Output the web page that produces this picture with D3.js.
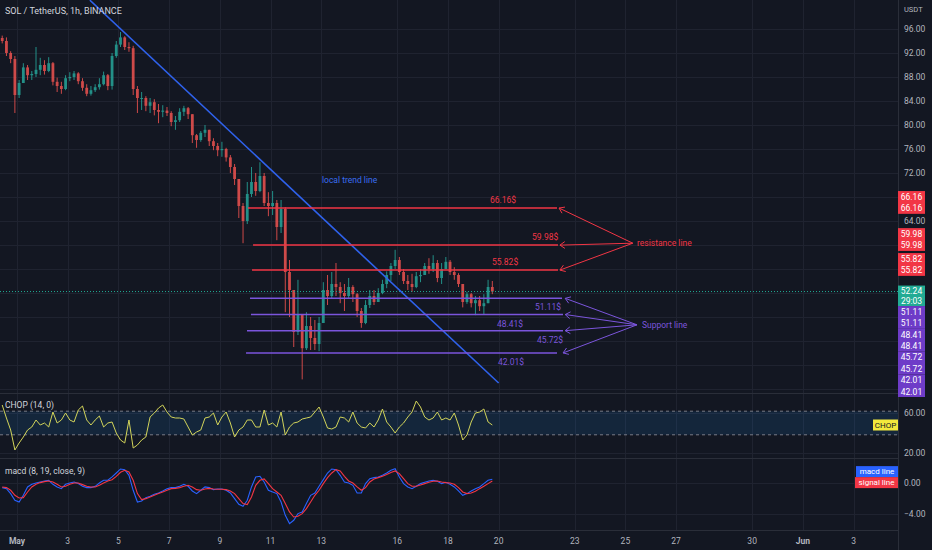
<!DOCTYPE html>
<html>
<head>
<meta charset="utf-8">
<title>SOL / TetherUS, 1h</title>
<script src="https://cdn.jsdelivr.net/npm/d3@7"></script>
<style>
  html, body { margin: 0; padding: 0; background: #131722; overflow: hidden; }
  svg { display: block; font-family: Roboto, "Open Sans", sans-serif; }
</style>
</head>
<body>
<script>
//price bars, 4h each, first bar starts 2022-04-30 08:00 UTC
var barStart = Date.UTC(2022, 3, 30, 8);
var barHours = 4;
var firstOpen = 94.5;
var closes = [94.0,92.0,91.0,85.0,87.0,89.6,88.3,88.5,89.2,90.0,
    89.0,90.3,87.2,86.5,86.0,87.8,88.0,88.6,87.3,86.2,
    85.2,85.8,86.3,86.8,88.3,86.5,91.5,93.4,94.6,93.0,
    92.8,86.0,84.5,84.5,83.2,83.8,82.5,82.2,82.4,82.0,
    80.5,80.8,82.2,82.8,81.8,78.3,77.5,78.7,79.2,77.3,
    76.5,75.8,76.0,74.6,73.0,71.0,66.5,64.0,68.5,70.5,
    69.0,71.5,67.0,66.5,67.0,63.0,66.0,55.5,52.5,45.5,
    48.5,42.8,46.5,44.5,43.5,47.0,52.5,51.5,53.5,53.0,
    52.0,51.5,53.0,51.8,49.0,47.0,50.0,51.5,50.5,52.0,
    53.5,55.0,56.5,57.5,55.5,54.0,53.5,53.0,54.8,55.0,
    56.5,56.0,57.0,54.5,56.0,57.2,55.5,55.0,53.5,50.5,
    51.8,50.3,50.8,49.8,50.3,53.0,52.24];
var highs = [94.9,94.6,92.3,91.5,87.5,90.3,90.0,89.0,93.0,91.2,
    90.8,91.3,90.5,87.9,87.2,88.3,88.8,89.0,88.8,87.8,
    86.8,86.5,86.8,87.8,88.9,88.5,92.0,94.0,95.5,94.8,
    93.8,93.2,86.5,85.5,84.8,84.5,84.3,83.5,83.3,83.0,
    82.3,81.5,82.8,83.2,83.0,81.8,78.5,79.0,80.0,79.2,
    77.8,77.0,77.2,76.2,75.0,73.5,71.0,67.0,70.5,73.0,
    72.0,73.8,72.0,68.8,69.0,67.5,67.5,66.3,57.5,52.5,
    54.2,48.5,48.8,48.0,47.5,48.0,53.8,55.0,55.5,57.0,
    53.8,53.5,54.5,53.3,52.0,49.5,50.8,52.5,52.5,52.8,
    54.2,55.6,57.0,59.2,58.0,56.0,55.0,55.2,55.5,56.0,
    57.0,57.8,58.3,57.5,57.0,58.0,57.5,56.3,55.3,53.5,
    52.2,52.0,51.5,51.5,51.8,54.2,54.0];
var lows = [93.6,91.5,90.3,82.0,84.5,87.0,87.5,87.5,88.0,88.3,
    88.4,88.8,86.6,85.5,85.2,85.8,87.3,87.5,86.8,85.7,
    84.8,84.9,85.5,85.9,86.6,85.8,85.9,91.2,93.0,92.5,
    92.2,85.0,82.0,82.5,82.3,82.0,81.6,80.3,81.3,81.5,
    79.8,79.2,80.5,81.5,81.0,77.0,76.2,77.2,78.0,76.5,
    75.8,74.8,74.7,73.9,72.0,70.0,64.5,60.3,63.5,68.0,
    68.2,68.8,66.5,64.8,65.0,60.8,62.0,48.8,48.0,43.0,
    45.0,37.6,42.5,42.5,42.5,42.3,47.0,50.0,51.0,51.5,
    50.3,49.0,51.0,50.5,48.0,46.2,46.8,49.5,50.0,50.5,
    51.8,52.8,54.0,56.0,55.0,53.5,52.5,52.2,52.8,53.8,
    55.0,55.2,55.5,53.8,53.5,56.0,55.0,54.2,53.0,49.6,
    50.2,49.6,48.3,49.0,48.4,50.3,51.8];

//CHOP (14, 0) per bar
var chop = [68,55,43,23,30,36,43,46,53,48,
    50,46,61,50,53,60,53,51,63,67,
    53,48,53,57,46,50,51,40,33,30,
    53,25,28,33,36,56,60,65,68,61,
    56,55,55,54,46,38,41,43,55,56,
    60,48,56,61,50,36,43,46,53,53,
    46,46,63,48,50,46,61,38,46,50,
    51,54,55,56,61,66,56,45,44,46,
    56,55,51,61,50,46,45,50,46,53,
    64,51,46,40,46,50,56,61,72,66,
    56,53,55,61,53,55,53,60,48,33,
    38,51,60,61,64,51,48];
var chopBand = [61.8, 38.2];

//macd (8, 19, close, 9) per bar
var macdLine = [-0.56,-0.69,-1.33,-2.19,-2.41,-1.55,-0.47,-0.13,0.04,0.17,
    0.30,0.39,-0.13,-0.47,-0.69,-0.13,0.04,0.17,-0.04,-0.39,
    -0.56,-0.56,-0.39,0.04,0.39,0.39,0.82,1.33,1.85,1.76,
    1.03,-0.90,-2.41,-2.28,-1.85,-1.68,-1.42,-1.25,-0.99,-0.69,
    -0.56,-0.56,-0.39,-0.13,-0.39,-0.99,-1.33,-0.90,-0.47,-0.56,
    -0.82,-0.73,-0.73,-0.90,-1.25,-1.98,-2.71,-2.97,-2.19,-0.47,
    0.82,0.90,0.17,-0.90,-1.12,-1.33,-2.41,-4.13,-5.20,-4.77,
    -3.91,-3.70,-2.62,-1.55,-1.25,-0.39,0.47,1.33,1.85,1.76,
    1.03,0.17,0.04,-0.26,-1.25,-1.25,-0.04,0.60,0.73,0.82,
    1.03,1.33,1.68,1.89,0.82,-0.04,-0.47,-0.69,-0.39,-0.04,
    0.13,0.30,0.39,0.26,-0.04,0.13,-0.13,-0.47,-0.99,-1.55,
    -1.33,-0.99,-0.69,-0.47,-0.04,0.39,0.52];
var signalLine = [-0.47,-0.56,-0.90,-1.55,-1.89,-1.85,-1.12,-0.47,-0.13,0.09,
    0.22,0.30,0.17,-0.13,-0.47,-0.39,-0.13,0.04,0.04,-0.17,
    -0.39,-0.47,-0.47,-0.26,0.04,0.30,0.47,0.90,1.42,1.68,
    1.46,0.39,-1.33,-2.11,-1.98,-1.76,-1.55,-1.33,-1.12,-0.90,
    -0.69,-0.65,-0.56,-0.39,-0.26,-0.47,-0.82,-0.90,-0.73,-0.65,
    -0.73,-0.77,-0.77,-0.82,-0.99,-1.33,-1.98,-2.62,-2.75,-1.76,
    -0.26,0.39,0.56,-0.04,-0.69,-1.12,-1.55,-2.62,-3.70,-4.35,
    -4.26,-3.91,-3.27,-2.41,-1.55,-0.90,-0.04,0.73,1.33,1.76,
    1.59,0.90,0.30,0.04,-0.47,-0.90,-0.56,0.17,0.56,0.73,
    0.90,1.12,1.38,1.59,1.25,0.60,-0.04,-0.39,-0.39,-0.22,
    -0.04,0.13,0.26,0.30,0.17,0.09,0.04,-0.13,-0.56,-1.12,
    -1.33,-1.25,-1.03,-0.69,-0.39,-0.04,0.30];

//last price and bar countdown
var lastPrice = 52.24;
var countdown = "29:03";

//drawn levels
var resistance = [66.16, 59.98, 55.82];
var resStart = ["2022-05-10T02:40Z", "2022-05-10T07:30Z", "2022-05-10T06:30Z"];
var resEnd = ["2022-05-22T07:15Z", "2022-05-22T08:10Z", "2022-05-22T08:10Z"];
var resLabelAt = ["2022-05-19T15:50Z", "2022-05-21T07:40Z", "2022-05-19T17:45Z"];
var resTip = ["2022-05-22T09:10Z", "2022-05-22T10:00Z", "2022-05-22T10:00Z"];
var resNote = {text: "resistance line", t: "2022-05-25T11:00Z", p: 59.85, from: "2022-05-25T07:00Z", fromP: 60.3};

var support = [51.11, 48.41, 45.72, 42.01];
var supStart = ["2022-05-10T04:35Z", "2022-05-10T05:30Z", "2022-05-10T01:45Z", "2022-05-10T00:50Z"];
var supEnd = ["2022-05-22T12:00Z", "2022-05-22T12:55Z", "2022-05-22T12:55Z", "2022-05-22T07:15Z"];
var supLabelAt = ["2022-05-21T10:25Z", "2022-05-19T22:25Z", "2022-05-21T12:20Z", "2022-05-19T23:20Z"];
var supTip = ["2022-05-22T15:00Z", "2022-05-22T15:00Z", "2022-05-22T15:00Z", "2022-05-22T13:00Z"];
var supNote = {text: "Support line", t: "2022-05-25T15:40Z", p: 46.15, from: "2022-05-25T11:00Z", fromP: 46.7};

var trendLine = [{t: "2022-05-03T21:00Z", p: 100.8}, {t: "2022-05-20T00:00Z", p: 37.0}];
var trendNote = {text: "local trend line", t: "2022-05-13T00:45Z", p: 70.3};

//axis ticks
var priceTicks = d3.range(36, 97, 4);
var chopTicks = [60, 20];
var macdTicks = [0, -4];
var dayTicks = ["2022-05-01","2022-05-03","2022-05-05","2022-05-07","2022-05-09","2022-05-11",
    "2022-05-13","2022-05-16","2022-05-18","2022-05-20","2022-05-23","2022-05-25",
    "2022-05-27","2022-05-30","2022-06-01","2022-06-03"];
var dayLabels = ["May","3","5","7","9","11","13","16","18","20","23","25","27","30","Jun","3"];

(function(){

    var width = 932,
        height = 550,
        plotRight = 898;

    //pane top / bottom
    var mainPane = [0, 393],
        chopPane = [393, 458],
        macdPane = [458, 530];

    var bg = "#131722", gridCol = "#1f2330", textCol = "#b2b5be",
        up = "#26a69a", down = "#ef5350",
        red = "#f23645", purple = "#7b55dc", blue = "#2f62ec";

    var svg = d3.select("body")
        .append("svg")
        .attr("width", width)
        .attr("height", height);

    svg.append("rect").attr("width", width).attr("height", height).attr("fill", bg);

    //scales
    var x = d3.scaleUtc()
        .domain([new Date(Date.UTC(2022, 4, 1)), new Date(Date.UTC(2022, 5, 4))])
        .range([17, 17 + 34 * 25.35]);
    var y = d3.scaleLinear().domain([96, 64]).range([29, 221]);
    var yChop = d3.scaleLinear().domain([60, 20]).range([413, 453]);
    var yMacd = d3.scaleLinear().domain([0, -4]).range([483.3, 514.3]);

    var hour = 3600e3;
    var fmt = d3.format(".2f");

    var bars = closes.map(function(c, i){
        return {
            t: new Date(barStart + (i * barHours + barHours / 2) * hour),
            o: i ? closes[i - 1] : firstOpen,
            h: highs[i], l: lows[i], c: c
        };
    });

    //clip paths for each pane
    var defs = svg.append("defs");
    [["clipMain", mainPane], ["clipChop", chopPane], ["clipMacd", macdPane], ["clipAxis", [0, 397]]].forEach(function(c){
        defs.append("clipPath").attr("id", c[0])
            .append("rect")
            .attr("x", c[0] == "clipAxis" ? plotRight : 0)
            .attr("y", c[1][0])
            .attr("width", c[0] == "clipAxis" ? width - plotRight : plotRight)
            .attr("height", c[1][1] - c[1][0]);
    });

    //grid
    var grid = svg.append("g").attr("stroke", gridCol).attr("stroke-width", 1);
    dayTicks.forEach(function(d){
        var px = Math.round(x(new Date(d + "T00:00Z"))) + 0.5;
        grid.append("line").attr("x1", px).attr("x2", px).attr("y1", 0).attr("y2", macdPane[1]);
    });
    priceTicks.forEach(function(p){
        var py = Math.round(y(p)) + 0.5;
        if (py < mainPane[1]) grid.append("line").attr("x1", 0).attr("x2", plotRight).attr("y1", py).attr("y2", py);
    });
    chopTicks.forEach(function(v){
        var py = Math.round(yChop(v)) + 0.5;
        grid.append("line").attr("x1", 0).attr("x2", plotRight).attr("y1", py).attr("y2", py);
    });
    macdTicks.forEach(function(v){
        var py = Math.round(yMacd(v)) + 0.5;
        grid.append("line").attr("x1", 0).attr("x2", plotRight).attr("y1", py).attr("y2", py);
    });

    //pane separators
    var sep = svg.append("g").attr("stroke", "#2a2e39").attr("stroke-width", 1);
    [chopPane[0], macdPane[0], macdPane[1]].forEach(function(py){
        sep.append("line").attr("x1", 0).attr("x2", width).attr("y1", py + 0.5).attr("y2", py + 0.5);
    });

    //candles
    var main = svg.append("g").attr("clip-path", "url(#clipMain)");
    var candle = main.selectAll(".candle")
        .data(bars)
        .enter()
        .append("g")
        .attr("class", "candle")
        .attr("fill", function(d){ return d.c >= d.o ? up : down; })
        .attr("stroke", function(d){ return d.c >= d.o ? up : down; })
        .attr("opacity", 0.85);
    candle.append("line")
        .attr("x1", function(d){ return x(d.t); })
        .attr("x2", function(d){ return x(d.t); })
        .attr("y1", function(d){ return y(Math.max(d.h, d.o, d.c)); })
        .attr("y2", function(d){ return y(Math.min(d.l, d.o, d.c)); })
        .attr("stroke-width", 1);
    candle.append("rect")
        .attr("stroke", "none")
        .attr("x", function(d){ return x(d.t) - 1.4; })
        .attr("width", 2.8)
        .attr("y", function(d){ return y(Math.max(d.o, d.c)); })
        .attr("height", function(d){ return Math.max(1, Math.abs(y(d.o) - y(d.c))); });

    //last price dotted line
    main.append("line")
        .attr("x1", 0).attr("x2", plotRight)
        .attr("y1", y(lastPrice)).attr("y2", y(lastPrice))
        .attr("stroke", "#22ab94").attr("stroke-width", 1)
        .attr("stroke-dasharray", "1,2");

    //trend line
    main.append("line")
        .attr("x1", x(new Date(trendLine[0].t))).attr("y1", y(trendLine[0].p))
        .attr("x2", x(new Date(trendLine[1].t))).attr("y2", y(trendLine[1].p))
        .attr("stroke", blue).attr("stroke-width", 1.6);
    main.append("text")
        .attr("x", x(new Date(trendNote.t))).attr("y", y(trendNote.p))
        .attr("fill", "#3a6df0").attr("font-size", 8.5)
        .text(trendNote.text);

    //horizontal levels with price text
    function drawLevels(levels, starts, ends, labelAt, color, above){
        levels.forEach(function(p, i){
            main.append("line")
                .attr("x1", x(new Date(starts[i]))).attr("x2", x(new Date(ends[i])))
                .attr("y1", y(p)).attr("y2", y(p))
                .attr("stroke", color).attr("stroke-width", 1.5);
            main.append("text")
                .attr("x", x(new Date(labelAt[i])))
                .attr("y", y(p) + (above ? -8 : 9))
                .attr("dy", "0.35em")
                .attr("fill", color).attr("font-size", 8.5)
                .text(fmt(p) + "$");
        });
    }
    drawLevels(resistance, resStart, resEnd, resLabelAt, red, true);
    drawLevels(support, supStart, supEnd, supLabelAt, purple, false);

    //arrows from the note to each level
    function drawArrows(levels, tips, note, color){
        var fx = x(new Date(note.from)), fy = y(note.fromP);
        levels.forEach(function(p, i){
            var tx = x(new Date(tips[i])), ty = y(p);
            var a = Math.atan2(fy - ty, fx - tx), len = 6;
            main.append("line")
                .attr("x1", fx).attr("y1", fy).attr("x2", tx).attr("y2", ty)
                .attr("stroke", color).attr("stroke-width", 1);
            main.append("path")
                .attr("d", "M" + (tx + len * Math.cos(a - 0.6)) + "," + (ty + len * Math.sin(a - 0.6)) +
                    "L" + tx + "," + ty +
                    "L" + (tx + len * Math.cos(a + 0.6)) + "," + (ty + len * Math.sin(a + 0.6)))
                .attr("fill", "none").attr("stroke", color).attr("stroke-width", 1);
        });
        main.append("text")
            .attr("x", x(new Date(note.t))).attr("y", y(note.p))
            .attr("fill", color).attr("font-size", 8.5)
            .text(note.text);
    }
    drawArrows(resistance, resTip, resNote, red);
    drawArrows(support, supTip, supNote, purple);

    //title
    svg.append("text")
        .attr("x", 5).attr("y", 14)
        .attr("fill", "#d1d4dc").attr("font-size", 9)
        .text("SOL / TetherUS, 1h, BINANCE");

    //CHOP pane
    var chopG = svg.append("g").attr("clip-path", "url(#clipChop)");
    chopG.append("rect")
        .attr("x", 0).attr("width", plotRight)
        .attr("y", yChop(chopBand[0]))
        .attr("height", yChop(chopBand[1]) - yChop(chopBand[0]))
        .attr("fill", "rgba(33,150,243,0.12)");
    chopBand.forEach(function(v){
        chopG.append("line")
            .attr("x1", 0).attr("x2", plotRight)
            .attr("y1", yChop(v)).attr("y2", yChop(v))
            .attr("stroke", "#787b86").attr("stroke-width", 1)
            .attr("stroke-dasharray", "3,3");
    });
    chopG.append("path")
        .datum(chop)
        .attr("fill", "none").attr("stroke", "#d2d45a").attr("stroke-width", 1)
        .attr("d", d3.line()
            .x(function(d, i){ return x(bars[i].t); })
            .y(function(d){ return yChop(d); }));
    chopG.append("text")
        .attr("x", 5).attr("y", 405).attr("dy", "0.35em")
        .attr("fill", "#d1d4dc").attr("font-size", 8.5)
        .text("CHOP (14, 0)");

    //MACD pane
    var macdG = svg.append("g").attr("clip-path", "url(#clipMacd)");
    [[macdLine, "#2962ff"], [signalLine, "#f23645"]].forEach(function(s){
        macdG.append("path")
            .datum(s[0])
            .attr("fill", "none").attr("stroke", s[1]).attr("stroke-width", 1.1)
            .attr("d", d3.line()
                .x(function(d, i){ return x(bars[i].t); })
                .y(function(d){ return yMacd(d); }));
    });
    macdG.append("text")
        .attr("x", 5).attr("y", 471).attr("dy", "0.35em")
        .attr("fill", "#d1d4dc").attr("font-size", 8.5)
        .text("macd (8, 19, close, 9)");

    //series tags inside the plot, next to the price scale
    function plotTag(label, cy, color, textColor, w){
        svg.append("rect")
            .attr("x", plotRight - w).attr("y", cy - 5.5)
            .attr("width", w).attr("height", 11)
            .attr("fill", color);
        svg.append("text")
            .attr("x", plotRight - w / 2).attr("y", cy).attr("dy", "0.35em")
            .attr("text-anchor", "middle")
            .attr("fill", textColor).attr("font-size", 8)
            .text(label);
    }
    plotTag("CHOP", yChop(chop[chop.length - 1]), "#f2e83c", "#131722", 25);
    var macdMid = (yMacd(macdLine[macdLine.length - 1]) + yMacd(signalLine[signalLine.length - 1])) / 2 - 3;
    plotTag("macd line", macdMid - 5.5, "#2962ff", "#ffffff", 42);
    plotTag("signal line", macdMid + 5.5, "#f23645", "#ffffff", 43);

    //price scale
    svg.append("rect").attr("x", plotRight).attr("width", width - plotRight)
        .attr("y", 0).attr("height", height).attr("fill", bg);
    svg.append("line").attr("x1", plotRight + 0.5).attr("x2", plotRight + 0.5)
        .attr("y1", 0).attr("y2", height).attr("stroke", "#2a2e39");

    //price tags on the scale, stacked so they do not overlap
    var rowH = 11.4;
    var tags = [];
    resistance.forEach(function(p){ tags.push({rows: [fmt(p), fmt(p)], color: red, top: y(p) - 17}); });
    tags.push({rows: [fmt(lastPrice), countdown], color: "#22ab94", top: y(lastPrice) - 6, h: 20.5});
    support.forEach(function(p){ tags.push({rows: [fmt(p), fmt(p)], color: "#6e3cc8", top: y(p) - 17}); });
    var bottom = -Infinity;
    tags.forEach(function(tg){
        tg.h = tg.h || tg.rows.length * rowH;
        tg.top = Math.max(tg.top, bottom);
        bottom = tg.top + tg.h;
    });

    //tick labels, skipped where a tag covers them
    function covered(py){
        return tags.some(function(tg){ return py > tg.top - 4 && py < tg.top + tg.h + 4; });
    }
    var axisG = svg.append("g").attr("fill", textCol).attr("font-size", 8.5);
    axisG.append("text").attr("x", 904).attr("y", 9).attr("dy", "0.35em").attr("font-size", 7.5).text("USDT");
    priceTicks.forEach(function(p){
        if (covered(y(p))) return;
        axisG.append("text").attr("x", 904).attr("y", y(p)).attr("dy", "0.35em").text(fmt(p));
    });
    chopTicks.forEach(function(v){
        axisG.append("text").attr("x", 904).attr("y", yChop(v)).attr("dy", "0.35em").text(fmt(v));
    });
    macdTicks.forEach(function(v){
        axisG.append("text").attr("x", 904).attr("y", yMacd(v)).attr("dy", "0.35em").text(fmt(v));
    });

    var tagG = svg.append("g").attr("clip-path", "url(#clipAxis)");
    tags.forEach(function(tg){
        tagG.append("rect")
            .attr("x", plotRight).attr("y", tg.top)
            .attr("width", 27).attr("height", tg.h)
            .attr("fill", tg.color);
        tg.rows.forEach(function(r, k){
            tagG.append("text")
                .attr("x", plotRight + 13.5)
                .attr("y", tg.top + (k + 0.5) * tg.h / tg.rows.length)
                .attr("dy", "0.35em")
                .attr("text-anchor", "middle")
                .attr("fill", "#ffffff").attr("font-size", 8.5)
                .text(r);
        });
    });

    //time scale
    var timeG = svg.append("g").attr("fill", textCol).attr("font-size", 8.5).attr("text-anchor", "middle");
    dayTicks.forEach(function(d, i){
        timeG.append("text")
            .attr("x", x(new Date(d + "T00:00Z")))
            .attr("y", 541).attr("dy", "0.35em")
            .attr("font-weight", isNaN(+dayLabels[i]) ? "bold" : "normal")
            .text(dayLabels[i]);
    });

})();
</script>
</body>
</html>
